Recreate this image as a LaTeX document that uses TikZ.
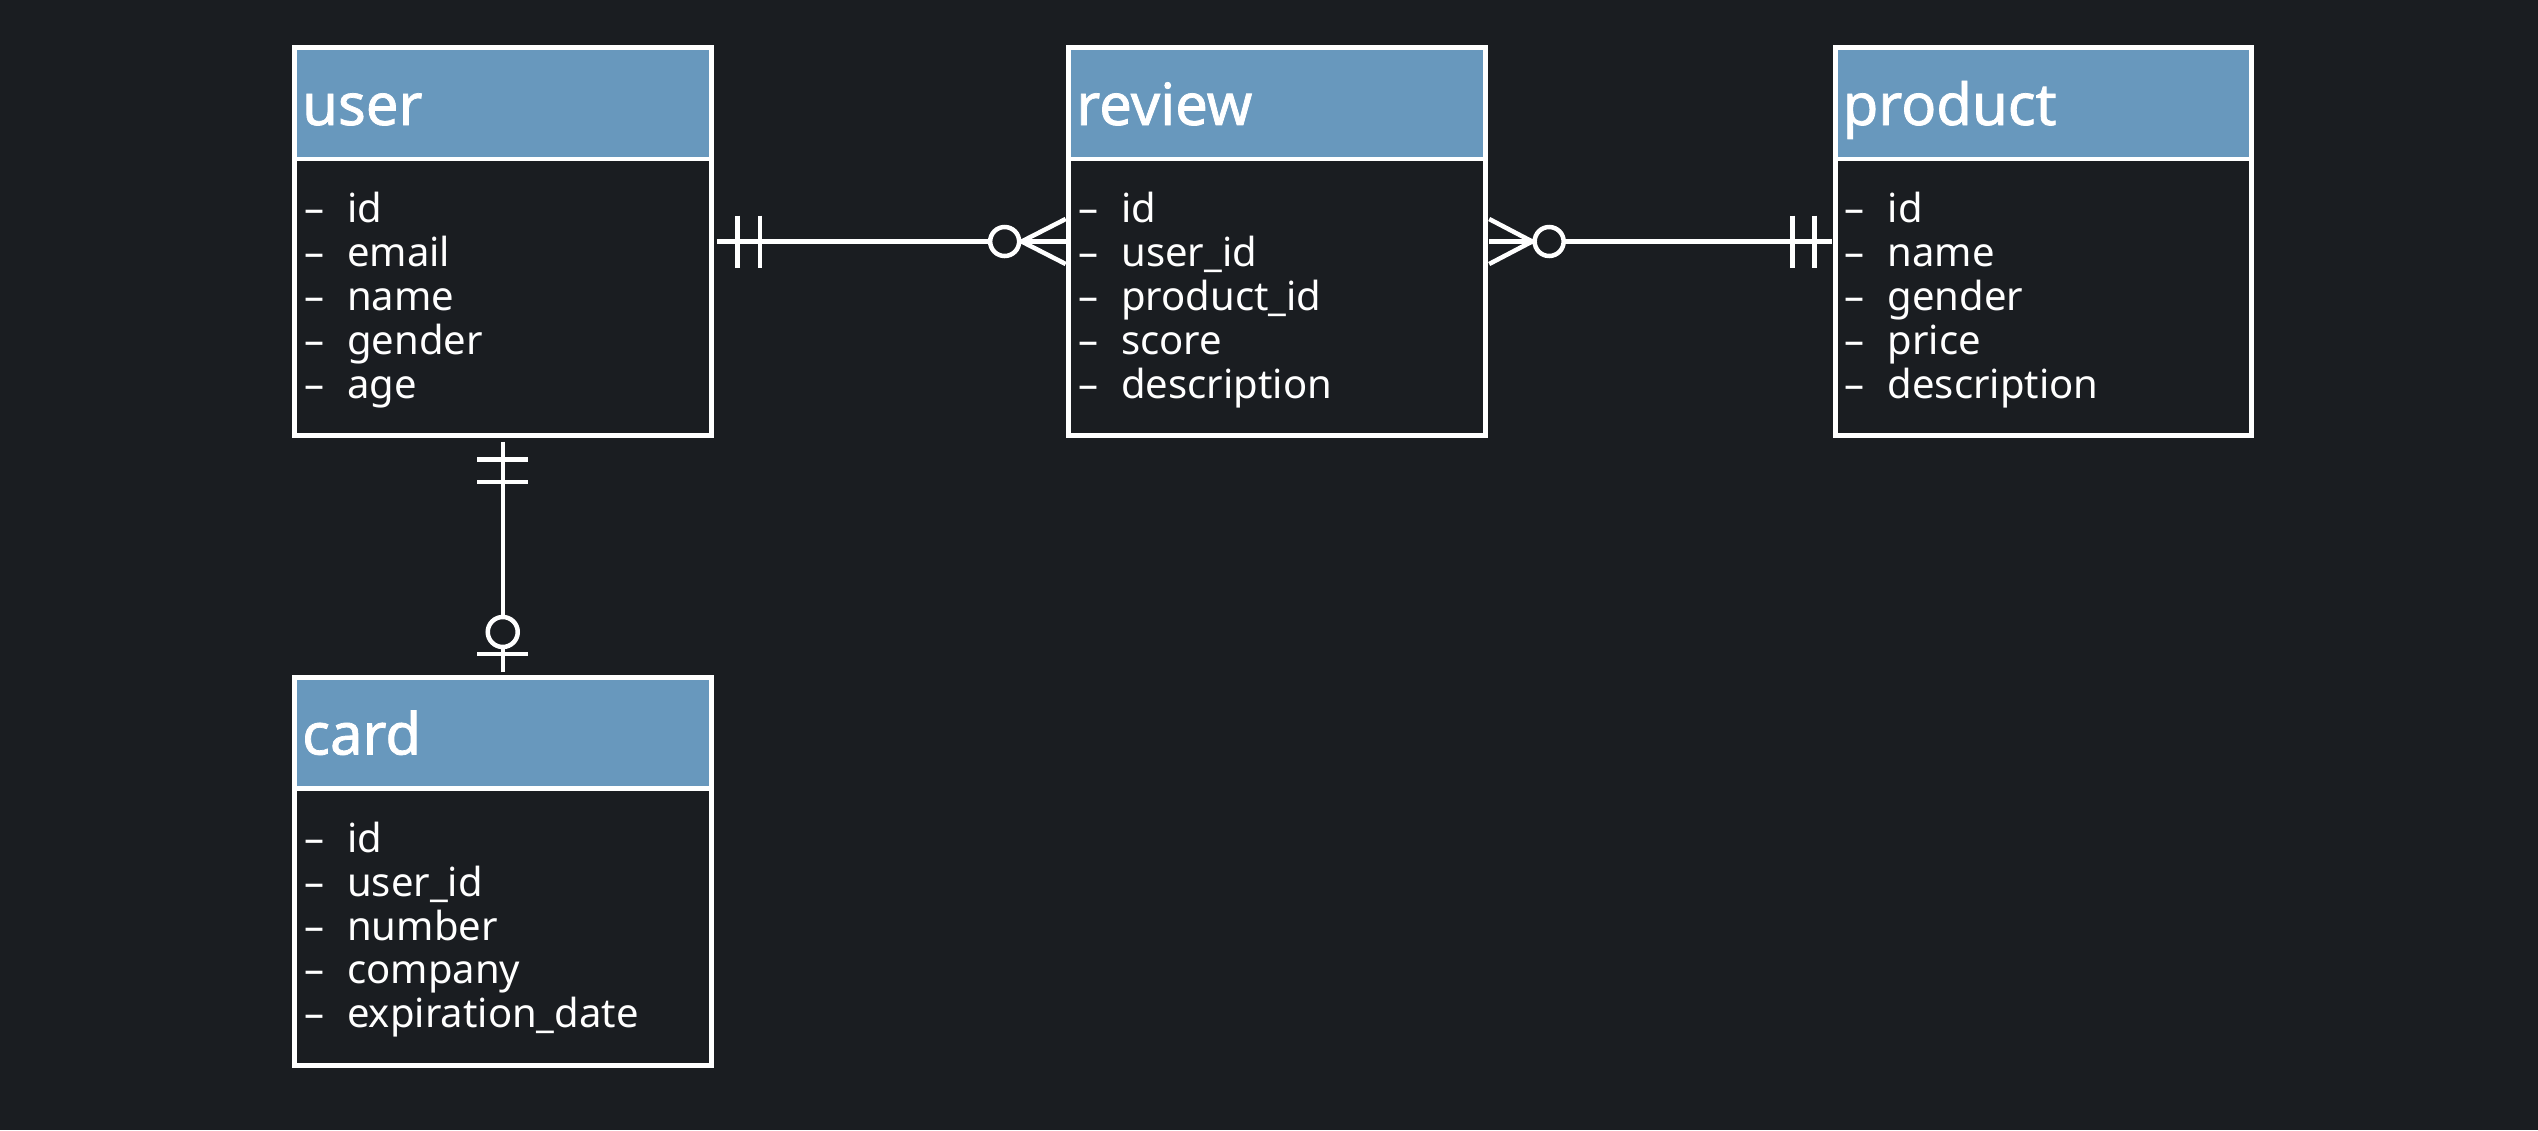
\documentclass[tikz,border=0pt]{standalone}
\usepackage{fontspec}
\setmainfont{Noto Sans}
\newfontfamily\ttlfont{Noto Sans}[FakeBold=1.3]
\usetikzlibrary{calc}
\definecolor{bg}{RGB}{26,29,33}
\definecolor{hdr}{RGB}{104,152,189}
\newcommand{\ertable}[4]{%
  \node[tbl] (#1) at (#2) {};
  \fill[hdr] ($(#1.north west)+(2.5,2.5)$) rectangle ($(#1.north east)+(-2.5,111.5)$);
  \draw[white, line width=4.5pt] ($(#1.north west)+(0,111.5)$) -- ($(#1.north east)+(0,111.5)$);
  \node[ttl] (#1-title) at ($(#1.north west)+(7.5,77.5)$) {#3};
  \foreach \f [count=\i] in {#4} {
    \node[fld] (#1-f\i) at ($(#1.north west)+(9.5,{175.2+43.9*(\i-1)})$) {\makebox[43pt][l]{–}\f};
  }
}
\begin{document}
\begin{tikzpicture}[x=1pt,y=-1pt,
  tbl/.style={draw=white, line width=5pt, fill=bg, minimum width=416.5pt, minimum height=388pt, inner sep=0pt, outer sep=0pt},
  ttl/.style={anchor=base west, text=white, font=\ttlfont\fontsize{58}{58}\selectfont, inner sep=0pt},
  fld/.style={anchor=base west, text=white, font=\fontsize{40}{44}\selectfont, inner sep=0pt},
  er/.style={draw=white, line width=4.5pt},
  ring/.style={draw=white, line width=4.5pt, fill=bg}]
\fill[bg] (0,0) rectangle (2538,1130);
\useasboundingbox (0,0) rectangle (2538,1130);

\ertable{user}{502.75,241.5}{user}{id,email,name,gender,age}
\ertable{review}{1276.9,241.5}{review}{id,user\_id,product\_id,score,description}
\ertable{product}{2043.25,241.5}{product}{id,name,gender,price,description}
\ertable{card}{502.75,871}{card}{id,user\_id,number,company,expiration\_date}

% user -- review (one to zero-or-many)
\draw[er] ($(user.east)+(6,0)$) -- ($(review.west)+(-3,0)$);
\foreach \d in {26.5,49} \draw[er] ($(user.east)+(\d,-26)$) -- ($(user.east)+(\d,26)$);
\draw[er] ($(review.west)+(-3,-22.5)$) -- ($(review.west)+(-47,0)$) -- ($(review.west)+(-3,22.5)$);
\draw[ring] ($(review.west)+(-64,0)$) circle[radius=14.5];

% review -- product (zero-or-many to one)
\draw[er] ($(review.east)+(4,0)$) -- ($(product.west)+(-3.5,0)$);
\draw[er] ($(review.east)+(4,-22.5)$) -- ($(review.east)+(47,0)$) -- ($(review.east)+(4,22.5)$);
\draw[ring] ($(review.east)+(64,0)$) circle[radius=14.5];
\foreach \d in {42.7,20.7} \draw[er] ($(product.west)+(-\d,-26)$) -- ($(product.west)+(-\d,26)$);

% user -- card (one to zero-or-one)
\draw[er] ($(user.south)+(0,6)$) -- ($(card.north)+(0,-5)$);
\foreach \d in {24,46.5} \draw[er] ($(user.south)+(-25.3,\d)$) -- ($(user.south)+(25.3,\d)$);
\draw[er] ($(card.north)+(-25.3,-23.2)$) -- ($(card.north)+(25.3,-23.2)$);
\draw[ring] ($(card.north)+(0,-45)$) circle[radius=15];
\end{tikzpicture}
\end{document}
